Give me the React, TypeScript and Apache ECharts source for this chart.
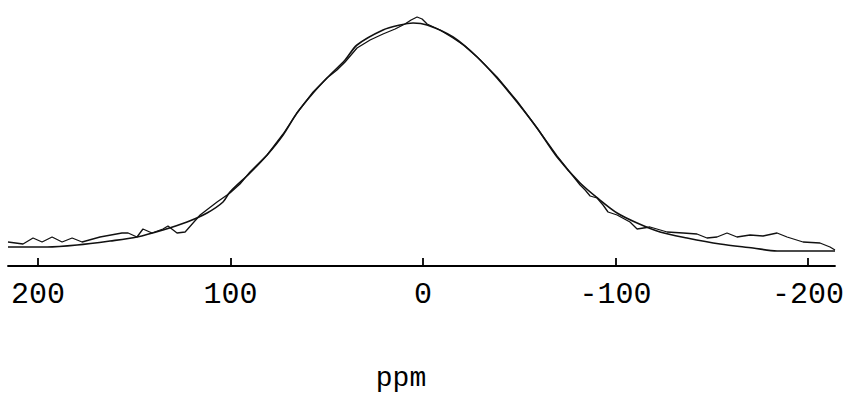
import React, { useEffect, useRef } from "react";
import * as echarts from "echarts";

// Chemical shift (ppm) and intensity (arbitrary units)
const fitPpm = [215.6, 195.3, 179.7, 162.6, 148.6, 135.1, 122.6, 112.2, 103.9, 100.3, 89.9, 81.0, 72.7, 65.5, 57.1, 49.9, 40.5, 34.3, 20.8, 11.9, 5.2, -2.1, -15.6, -28.1, -38.4, -48.8, -59.2, -69.6, -81.6, -91.9, -100.8, -111.2, -123.1, -137.1, -154.3, -171.4, -183.9, -214];
const fitIntensity = [19, 19, 21, 25, 29, 36, 44, 53, 64, 74, 93, 111, 131, 153, 173, 188, 206, 221, 236, 241, 243, 241, 229, 209, 188, 164, 138, 109, 83, 66, 53, 43, 34, 28, 22, 18, 15, 15];

const expPpm = [215.6, 207.8, 202.6, 197.9, 192.7, 187.5, 182.3, 177.1, 167.8, 156.4, 153.2, 148.6, 145.5, 140.8, 135.1, 132.5, 127.8, 123.6, 115.8, 107.0, 100.3, 95.1, 89.9, 81.0, 72.7, 65.5, 57.1, 49.9, 44.7, 40.5, 34.3, 27.5, 20.8, 14.5, 9.4, 6.2, 3.1, 0.5, -2.1, -8.8, -15.6, -21.8, -28.1, -38.4, -48.8, -59.2, -69.6, -81.6, -84.2, -86.8, -90.4, -93.5, -96.1, -100.8, -107.5, -111.2, -117.9, -126.8, -135.1, -142.3, -147.5, -152.7, -157.9, -163.1, -169.9, -176.6, -183.9, -189.1, -197.4, -206.2, -211.4, -214];
const expIntensity = [24, 22, 28, 24, 29, 24, 28, 24, 29, 33, 33, 29, 37, 33, 37, 40, 33, 34, 51, 64, 73, 82, 94, 111, 132, 153, 174, 188, 196, 204, 218, 226, 232, 237, 242, 246, 249, 247, 242, 236, 228, 220, 209, 189, 165, 138, 110, 81, 76, 70, 68, 61, 54, 51, 44, 37, 39, 34, 33, 32, 28, 29, 33, 29, 31, 30, 33, 29, 24, 23, 19, 16];

const tickValues = [200, 100, 0, -100, -200];
const axisName = "ppm";

export default function App() {
  const ref = useRef<HTMLDivElement>(null);
  useEffect(() => {
    if (!ref.current) return;
    const chart = echarts.init(ref.current, undefined, { renderer: "svg" });
    const fit = fitPpm.map((p, i) => [p, fitIntensity[i]]);
    const exp = expPpm.map((p, i) => [p, expIntensity[i]]);
    chart.setOption({
      animation: false,
      backgroundColor: "#ffffff",
      grid: { left: 8, right: 14, top: 16, bottom: 130 },
      xAxis: {
        type: "value",
        inverse: true,
        min: -214,
        max: 215.6,
        splitLine: { show: false },
        axisLine: { show: true, onZero: false, lineStyle: { color: "#000", width: 1.8 } },
        axisTick: {
          show: true,
          inside: true,
          length: 8,
          customValues: tickValues,
          lineStyle: { color: "#000", width: 1.8 },
        },
        axisLabel: {
          customValues: tickValues,
          color: "#000",
          fontFamily: "Liberation Mono",
          fontSize: 30,
          margin: 14,
        },
      },
      yAxis: { type: "value", show: false, min: 0, max: 250 },
      graphic: [
        {
          type: "text",
          x: 401,
          y: 378,
          style: {
            text: axisName,
            fill: "#000",
            font: "28px 'Liberation Mono'",
            align: "center",
            verticalAlign: "middle",
          },
        },
      ],
      series: [
        {
          type: "line",
          data: fit,
          showSymbol: false,
          smooth: 0.3,
          lineStyle: { color: "#111", width: 1.6 },
        },
        {
          type: "line",
          data: exp,
          showSymbol: false,
          smooth: false,
          lineStyle: { color: "#111", width: 1.3 },
        },
      ],
    });
    return () => chart.dispose();
  }, []);
  return (
    <div
      ref={ref}
      style={{ position: "fixed", left: 0, top: 0, width: 849, height: 396, background: "#fff" }}
    />
  );
}
